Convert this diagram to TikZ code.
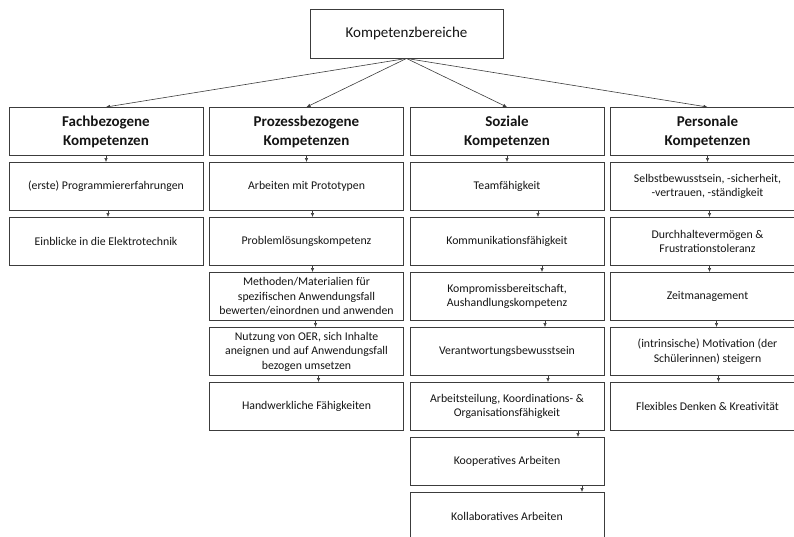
\documentclass[tikz,border=0pt]{standalone}
\usepackage{fontspec}
\setmainfont{Carlito}
\usepackage{tikz}
\usetikzlibrary{shapes,arrows.meta,positioning}
\definecolor{rahmen}{RGB}{60,60,60}
\definecolor{schrift}{RGB}{20,20,20}
\tikzstyle{kbox} = [draw=rahmen, rectangle, align=center, text=schrift,
    minimum width=194pt, minimum height=48pt, inner ysep=2pt, line width=0.9pt,
    font=\fontsize{11.8}{14.5}\selectfont, node distance=55pt]
\tikzstyle{kopf} = [kbox, font=\fontsize{15}{19}\selectfont\bfseries]
\tikzstyle{pfeil} = [rahmen, line width=0.6pt, -{Latex[length=4pt,width=3.5pt]}]

\begin{document}
\begin{tikzpicture}[node distance = 55pt, auto]
  \useasboundingbox (0,0) rectangle (794pt,-537pt);
  \node [kbox, minimum width=193pt, minimum height=49pt,
    font=\fontsize{15}{17}\selectfont] (k) at (406.5pt,-33.5pt) {Kompetenzbereiche};
  % Kopfzeile
  \node [kopf] (c01) at (106pt,-131.5pt) {Fachbezogene\\Kompetenzen};
  \node [kopf, right of=c01, node distance=200.5pt] (c02) {Prozessbezogene\\Kompetenzen};
  \node [kopf, right of=c02, node distance=200.5pt] (c03) {Soziale\\Kompetenzen};
  \node [kopf, right of=c03, node distance=200.5pt] (c04) {Personale\\Kompetenzen};
  % Fachbezogen
  \node [kbox, below of=c01] (c11) {(erste) Programmiererfahrungen};
  \node [kbox, below of=c11] (c21) {Einblicke in die Elektrotechnik};
  % Prozessbezogen
  \node [kbox, below of=c02] (c12) {Arbeiten mit Prototypen};
  \node [kbox, below of=c12] (c22) {Problemlösungskompetenz};
  \node [kbox, below of=c22] (c32) {Methoden/Materialien für\\spezifischen Anwendungsfall\\bewerten/einordnen und anwenden};
  \node [kbox, below of=c32] (c42) {Nutzung von OER, sich Inhalte\\aneignen und auf Anwendungsfall\\bezogen umsetzen};
  \node [kbox, below of=c42] (c52) {Handwerkliche Fähigkeiten};
  % Sozial
  \node [kbox, below of=c03] (c13) {Teamfähigkeit};
  \node [kbox, below of=c13] (c23) {Kommunikationsfähigkeit};
  \node [kbox, below of=c23] (c33) {Kompromissbereitschaft,\\Aushandlungskompetenz};
  \node [kbox, below of=c33] (c43) {Verantwortungsbewusstsein};
  \node [kbox, below of=c43] (c53) {Arbeitsteilung, Koordinations- \&\\Organisationsfähigkeit};
  \node [kbox, below of=c53] (c63) {Kooperatives Arbeiten};
  \node [kbox, below of=c63] (c73) {Kollaboratives Arbeiten};
  % Personal
  \node [kbox, below of=c04] (c14) {Selbstbewusstsein, -sicherheit,\\-vertrauen, -ständigkeit};
  \node [kbox, below of=c14] (c24) {Durchhaltevermögen \&\\Frustrationstoleranz};
  \node [kbox, below of=c24] (c34) {Zeitmanagement};
  \node [kbox, below of=c34] (c44) {(intrinsische) Motivation (der\\Schülerinnen) steigern};
  \node [kbox, below of=c44] (c54) {Flexibles Denken \& Kreativität};

  \draw [pfeil] (k.south) -- (c01.north);
  \draw [pfeil] (k.south) -- (c02.north);
  \draw [pfeil] (k.south) -- (c03.north);
  \draw [pfeil] (k.south) -- (c04.north);

  \draw [pfeil] (c01.south) -- (c11.north);
  \draw [pfeil] ([xshift=2pt]c11.south) -- ([xshift=2pt]c21.north);

  \draw [pfeil] (c02.south) -- (c12.north);
  \draw [pfeil] ([xshift=6pt]c12.south) -- ([xshift=6pt]c22.north);
  \draw [pfeil] ([xshift=6pt]c22.south) -- ([xshift=6pt]c32.north);
  \draw [pfeil] ([xshift=9pt]c32.south) -- ([xshift=9pt]c42.north);
  \draw [pfeil] ([xshift=12pt]c42.south) -- ([xshift=12pt]c52.north);

  \draw [pfeil] (c03.south) -- (c13.north);
  \draw [pfeil] ([xshift=31pt]c13.south) -- ([xshift=31pt]c23.north);
  \draw [pfeil] ([xshift=35pt]c23.south) -- ([xshift=35pt]c33.north);
  \draw [pfeil] ([xshift=38pt]c33.south) -- ([xshift=38pt]c43.north);
  \draw [pfeil] ([xshift=41pt]c43.south) -- ([xshift=41pt]c53.north);
  \draw [pfeil] ([xshift=71pt]c53.south) -- ([xshift=71pt]c63.north);
  \draw [pfeil] ([xshift=75pt]c63.south) -- ([xshift=75pt]c73.north);

  \draw [pfeil] (c04.south) -- (c14.north);
  \draw [pfeil] ([xshift=2pt]c14.south) -- ([xshift=2pt]c24.north);
  \draw [pfeil] ([xshift=2pt]c24.south) -- ([xshift=2pt]c34.north);
  \draw [pfeil] ([xshift=9pt]c34.south) -- ([xshift=9pt]c44.north);
  \draw [pfeil] ([xshift=11pt]c44.south) -- ([xshift=11pt]c54.north);
\end{tikzpicture}
\end{document}
